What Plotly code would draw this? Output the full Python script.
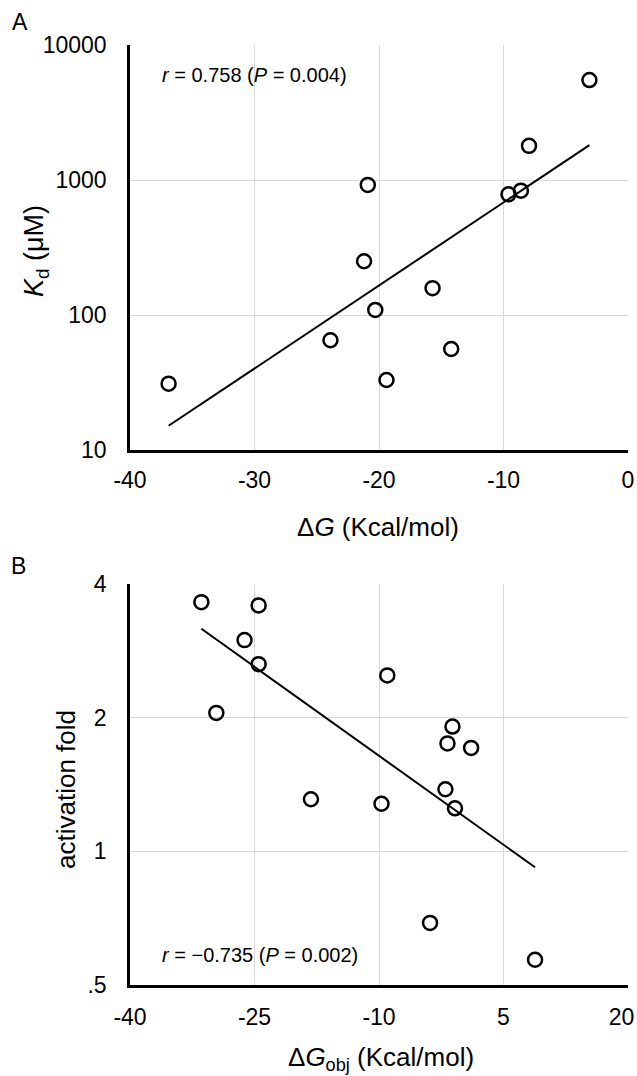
import numpy as np
import plotly.graph_objects as go
from plotly.subplots import make_subplots

# Panel A data
dG_a = [-36.9, -23.9, -20.9, -21.2, -20.3, -19.4, -15.7, -14.2, -9.6, -8.6, -7.95, -3.1]
kd_a = [31, 65, 920, 250, 109, 33, 158, 56, 783, 834, 1790, 5500]

# Panel B data
dG_b = [-31.4, -24.5, -26.2, -24.5, -29.6, -9.0, -1.15, -1.75, 1.1, -18.2, -9.7, -2.0, -0.85, -3.85, 8.8]
fold_b = [3.64, 3.58, 2.99, 2.64, 2.05, 2.49, 1.91, 1.75, 1.71, 1.31, 1.28, 1.38, 1.25, 0.69, 0.57]

xticks_a = [-40, -30, -20, -10, 0]
xticklabels_a = ["-40", "-30", "-20", "-10", "0"]
yticks_a = [10, 100, 1000, 10000]
yticklabels_a = ["10", "100", "1000", "10000"]
xticks_b = [-40, -25, -10, 5, 20]
xticklabels_b = ["-40", "-25", "-10", "5", "20&nbsp;&nbsp;"]
yticks_b = [0.5, 1, 2, 4]
yticklabels_b = [".5", "1", "2", "4"]

FONT = "Liberation Sans, Arial, sans-serif"
W, H = 637, 1076
ML, MR = 130, 9
PW = W - ML - MR

def px_x(px):
    return (px - ML) / PW

def px_y(py):
    return 1 - py / H

fig = make_subplots(rows=2, cols=1)

def trend(x, y):
    x = np.array(x, float)
    ly = np.log10(np.array(y, float))
    m, b = np.polyfit(x, ly, 1)
    xs = np.array([x.min(), x.max()])
    return xs, 10 ** (m * xs + b)

marker = dict(symbol="circle-open", size=14, color="black", line=dict(width=2.5, color="black"))

tx, ty = trend(dG_a, kd_a)
fig.add_trace(go.Scatter(x=tx, y=ty, mode="lines", line=dict(color="black", width=2), showlegend=False), row=1, col=1)
fig.add_trace(go.Scatter(x=dG_a, y=kd_a, mode="markers", marker=marker, showlegend=False), row=1, col=1)

tx, ty = trend(dG_b, fold_b)
fig.add_trace(go.Scatter(x=tx, y=ty, mode="lines", line=dict(color="black", width=2), showlegend=False), row=2, col=1)
fig.add_trace(go.Scatter(x=dG_b, y=fold_b, mode="markers", marker=marker, showlegend=False), row=2, col=1)

grid = "#d9d9d9"
tickfont = dict(family=FONT, size=23, color="black")

fig.update_layout(
    width=W, height=H,
    margin=dict(l=ML, r=MR, t=0, b=0),
    paper_bgcolor="white", plot_bgcolor="white",
    font=dict(family=FONT, color="black"),
)

common = dict(showgrid=True, gridcolor=grid, gridwidth=1, showline=True, linecolor="black",
              linewidth=2.5, zeroline=False, tickfont=tickfont, ticks="", automargin=False,
              ticklabeloverflow="allow")

fig.update_xaxes(range=[-40, 0], tickvals=xticks_a, ticktext=xticklabels_a, ticklabelstandoff=8,
                 domain=[0, 1], **common, row=1, col=1)
fig.update_yaxes(type="log", range=[1, 4], tickvals=yticks_a, ticktext=yticklabels_a,
                 ticklabelstandoff=16, domain=[px_y(450), px_y(45)], **common, row=1, col=1)
fig.update_xaxes(range=[-40, 20], tickvals=xticks_b, ticktext=xticklabels_b, ticklabelstandoff=10,
                 domain=[0, 1], **common, row=2, col=1)
fig.update_yaxes(type="log", range=[np.log10(0.5), np.log10(4)], tickvals=yticks_b, ticktext=yticklabels_b,
                 ticklabelstandoff=16, domain=[px_y(985), px_y(584)], **common, row=2, col=1)

def label(text, x, y, size, angle=0, anchor="center"):
    fig.add_annotation(text=text, xref="paper", yref="paper", x=px_x(x), y=px_y(y),
                       xanchor=anchor, yanchor="middle", showarrow=False, textangle=angle,
                       font=dict(family=FONT, size=size, color="black"))

# axis titles
label("Δ<i>G</i> (Kcal/mol)", 378, 527, 26)
label("<i>K</i><sub>d</sub> (μM)", 36, 251, 27, angle=-90)
label("Δ<i>G</i><sub>obj</sub> (Kcal/mol)", 381, 1058, 26)
label("activation fold", 66, 790, 26, angle=-90)

# correlation notes
label("<i>r</i> = 0.758 (<i>P</i> = 0.004)", 160, 75, 20, anchor="left")
label("<i>r</i> = −0.735 (<i>P</i> = 0.002)", 160, 955, 20, anchor="left")

# panel letters
label("A", 20, 22, 23)
label("B", 18, 566, 23)

fig.write_html("out.html", config={"displayModeBar": False},
               post_script="document.body.style.margin='0';document.body.style.overflow='hidden';")
